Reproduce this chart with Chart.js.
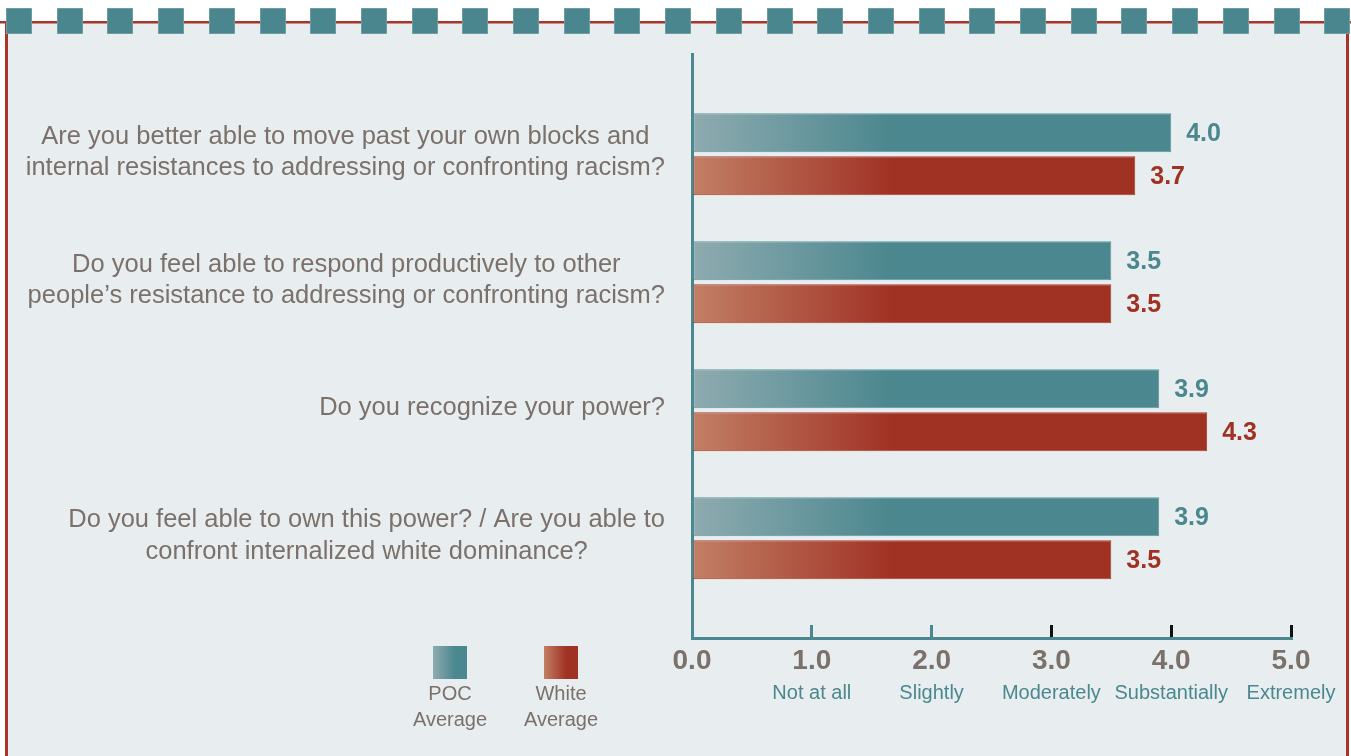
<!DOCTYPE html>
<html>
<head>
<meta charset="utf-8">
<script src="https://cdn.jsdelivr.net/npm/chart.js@4/dist/chart.umd.min.js"></script>
<style>
  html, body { margin: 0; padding: 0; background: #ffffff; }
  canvas { display: block; }
</style>
</head>
<body>
<canvas id="canvasChart" width="1351" height="756"></canvas>
<script>
// questions (y axis), one array of lines per category
var questions = [
    ['Are you better able to move past your own blocks and', 'internal resistances to addressing or confronting racism?'],
    ['Do you feel able to respond productively to other', 'people\u2019s resistance to addressing or confronting racism?'],
    ['Do you recognize your power?'],
    ['Do you feel able to own this power? / Are you able to', 'confront internalized white dominance?']
];
var pocValues = [4.0, 3.5, 3.9, 3.9];
var whiteValues = [3.7, 3.5, 4.3, 3.5];
var seriesNames = ['POC Average', 'White Average'];
var scaleTicks = [0, 1, 2, 3, 4, 5];
var scaleWords = ['', 'Not at all', 'Slightly', 'Moderately', 'Substantially', 'Extremely'];

var TEAL = '#4b878e';
var TEAL_LIGHT = '#8eabb0';
var RED = '#a03224';
var RED_LIGHT = '#c27f65';
var GREY = '#7b706a';
var FONT = '"Liberation Sans", Arial, sans-serif';

function makeGradient(ctx, x0, x1, light, dark){
    var g = ctx.createLinearGradient(x0, 0, x1, 0);
    g.addColorStop(0, light);
    g.addColorStop(1, dark);
    return g;
}

function barFill(light, dark){
    return function(context){
        var chart = context.chart;
        var area = chart.chartArea;
        if(!area){
            return dark;
        }
        return makeGradient(chart.ctx, area.left, area.left + 200, light, dark);
    };
}

function toPoints(values){
    var pts = [];
    for(var i = 0; i < values.length; i++){
        pts.push({x: values[i], y: i});
    }
    return pts;
}

// page frame: light panel, red border, teal squares along the top
var framePlugin = {
    id: 'frame',
    beforeDraw: function(chart){
        var ctx = chart.ctx;
        var w = chart.width, h = chart.height;
        ctx.save();
        ctx.fillStyle = '#ffffff';
        ctx.fillRect(0, 0, w, h);
        ctx.fillStyle = '#e8eef0';
        ctx.fillRect(6, 22, 1342, h - 22);
        ctx.fillStyle = '#a83527';
        ctx.fillRect(0, 21, w, 2.5);
        ctx.fillRect(5, 21, 3, h - 21);
        ctx.fillRect(1346, 21, 3, h - 21);
        for(var i = 0; i < 27; i++){
            var x = Math.round(6 + i * 50.7);
            ctx.fillStyle = '#8fb2b6';
            ctx.fillRect(x, 8, 26, 26);
            ctx.fillStyle = '#4a868d';
            ctx.fillRect(x + 0.5, 8.5, 25, 25);
        }
        ctx.restore();
    }
};

// question labels: each block right-aligned to the axis, lines centred inside it
var questionPlugin = {
    id: 'questionLabels',
    afterDraw: function(chart){
        var ctx = chart.ctx;
        var yScale = chart.scales.y;
        var right = yScale.right - 27;
        var lineH = 31.5;
        ctx.save();
        ctx.font = '25.5px ' + FONT;
        ctx.fillStyle = GREY;
        ctx.textAlign = 'center';
        ctx.textBaseline = 'middle';
        questions.forEach(function(lines, i){
            var widest = 0;
            lines.forEach(function(l){ widest = Math.max(widest, ctx.measureText(l).width); });
            var cx = right - widest / 2;
            var cy = yScale.getPixelForValue(i) - 2;
            var y0 = cy - (lines.length - 1) * lineH / 2;
            lines.forEach(function(l, k){
                ctx.fillText(l, cx, y0 + k * lineH);
            });
        });
        ctx.restore();
    }
};

// value labels next to bar ends + legend in the lower left
var labelsPlugin = {
    id: 'valueLabels',
    afterDatasetsDraw: function(chart){
        var ctx = chart.ctx;
        ctx.save();
        ctx.font = 'bold 25px ' + FONT;
        ctx.textAlign = 'left';
        ctx.textBaseline = 'middle';
        chart.data.datasets.forEach(function(ds, di){
            var meta = chart.getDatasetMeta(di);
            ctx.fillStyle = di === 0 ? TEAL : RED;
            meta.data.forEach(function(bar, i){
                ctx.fillText(ds.data[i].x.toFixed(1), bar.x + 15, bar.y + 1);
            });
        });
        ctx.restore();
    },
    afterDraw: function(chart){
        var ctx = chart.ctx;
        var spots = [{x: 433, light: TEAL_LIGHT, dark: TEAL}, {x: 544, light: RED_LIGHT, dark: RED}];
        ctx.save();
        ctx.font = '20px ' + FONT;
        ctx.textAlign = 'center';
        ctx.textBaseline = 'middle';
        chart.data.datasets.forEach(function(ds, di){
            var s = spots[di];
            ctx.fillStyle = makeGradient(ctx, s.x, s.x + 22, s.light, s.dark);
            ctx.fillRect(s.x, 646, 34, 33);
            ctx.fillStyle = GREY;
            var words = ds.label.split(' ');
            ctx.fillText(words[0], s.x + 17, 694);
            ctx.fillText(words[1], s.x + 17, 720);
        });
        ctx.restore();
    }
};

var config = {
    type: 'bar',
    data: {
        datasets: [{
            label: seriesNames[0],
            data: toPoints(pocValues),
            backgroundColor: barFill(TEAL_LIGHT, TEAL),
            borderColor: '#5d959b',
            borderWidth: 1,
            borderSkipped: false
        }, {
            label: seriesNames[1],
            data: toPoints(whiteValues),
            backgroundColor: barFill(RED_LIGHT, RED),
            borderColor: '#a9392b',
            borderWidth: 1,
            borderSkipped: false
        }]
    },
    options: {
        responsive: false,
        animation: false,
        indexAxis: 'y',
        categoryPercentage: 0.673,
        barPercentage: 0.907,
        layout: {
            padding: {left: 0, right: 60, top: 54.5, bottom: 51}
        },
        plugins: {
            legend: {display: false},
            tooltip: {enabled: false}
        },
        scales: {
            y: {
                type: 'linear',
                reverse: true,
                offset: false,
                min: -0.78,
                max: 3.78,
                afterBuildTicks: function(scale){
                    scale.ticks = questions.map(function(q, i){ return {value: i}; });
                },
                afterFit: function(scale){
                    scale.width = 692;
                },
                grid: {display: false, drawTicks: false, offset: false},
                border: {display: true, color: TEAL, width: 3},
                ticks: {display: false}
            },
            x: {
                type: 'linear',
                position: 'bottom',
                min: 0,
                max: 5,
                weight: 0,
                afterBuildTicks: function(scale){
                    scale.ticks = scaleTicks.map(function(v){ return {value: v}; });
                },
                afterFit: function(scale){
                    scale.height = 37;
                },
                grid: {
                    drawOnChartArea: false,
                    drawTicks: true,
                    tickLength: -13,
                    lineWidth: 3,
                    color: function(context){
                        var v = context.tick ? context.tick.value : 0;
                        if(v === 0) return 'rgba(0,0,0,0)';
                        return v <= 2 ? TEAL : '#111111';
                    }
                },
                border: {display: true, color: TEAL, width: 3},
                ticks: {
                    padding: 19,
                    color: GREY,
                    font: {family: FONT, size: 28, weight: 'bold'},
                    callback: function(value){
                        return value.toFixed(1);
                    }
                }
            },
            x2: {
                type: 'linear',
                position: 'bottom',
                min: 0,
                max: 5,
                weight: 1,
                afterBuildTicks: function(scale){
                    scale.ticks = scaleTicks.map(function(v){ return {value: v}; });
                },
                afterFit: function(scale){
                    scale.height = 30;
                },
                grid: {display: false, drawTicks: false},
                border: {display: false},
                ticks: {
                    padding: 6,
                    color: TEAL,
                    font: {family: FONT, size: 20},
                    callback: function(value){
                        return scaleWords[value];
                    }
                }
            }
        }
    },
    plugins: [framePlugin, questionPlugin, labelsPlugin]
};

var ctx = document.getElementById('canvasChart').getContext('2d');
var chart = new Chart(ctx, config);
</script>
</body>
</html>
